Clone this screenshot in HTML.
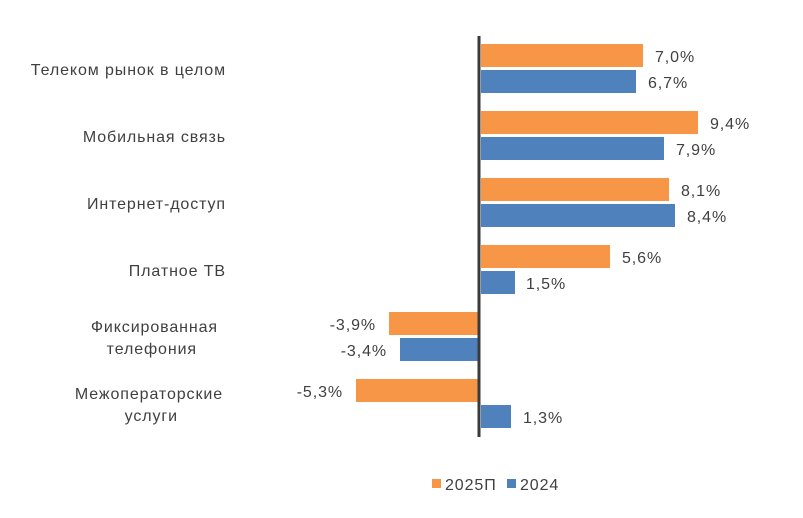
<!DOCTYPE html>
<html><head><meta charset="utf-8"><style>
body{margin:0;background:#fff;}
svg text{font-family:"Liberation Sans","DejaVu Sans",sans-serif;font-size:16px;letter-spacing:0.9px;fill:#404040;}
</style></head><body>
<svg width="803" height="513" xmlns="http://www.w3.org/2000/svg">
<g id="bars">
<rect x="481" y="44" width="162" height="23" fill="#F79646"/>
<rect x="481" y="70" width="155" height="23" fill="#4F81BD"/>
<rect x="481" y="111" width="217" height="23" fill="#F79646"/>
<rect x="481" y="137" width="183" height="23" fill="#4F81BD"/>
<rect x="481" y="178" width="188" height="23" fill="#F79646"/>
<rect x="481" y="204" width="194" height="23" fill="#4F81BD"/>
<rect x="481" y="245" width="129" height="23" fill="#F79646"/>
<rect x="481" y="271" width="34" height="23" fill="#4F81BD"/>
<rect x="389" y="312" width="90" height="23" fill="#F79646"/>
<rect x="400" y="338" width="79" height="23" fill="#4F81BD"/>
<rect x="356" y="379" width="123" height="23" fill="#F79646"/>
<rect x="481" y="405" width="30" height="23" fill="#4F81BD"/>
</g>
<rect x="477.5" y="36" width="3" height="401" fill="#3a3a3a"/>
<g>
<text x="655" y="62">7,0%</text>
<text x="648" y="88">6,7%</text>
<text x="710" y="129">9,4%</text>
<text x="676" y="155">7,9%</text>
<text x="681" y="196">8,1%</text>
<text x="687" y="222">8,4%</text>
<text x="622" y="263">5,6%</text>
<text x="526" y="289">1,5%</text>
<text x="376" y="330" text-anchor="end">-3,9%</text>
<text x="387" y="356" text-anchor="end">-3,4%</text>
<text x="343" y="397" text-anchor="end">-5,3%</text>
<text x="523" y="423">1,3%</text>
</g>
<g text-anchor="end">
<text x="226" y="75">Телеком рынок в целом</text>
<text x="226" y="142">Мобильная связь</text>
<text x="226" y="209">Интернет-доступ</text>
<text x="226" y="276">Платное ТВ</text>
<text x="218" y="332">Фиксированная</text>
<text x="197" y="354">телефония</text>
<text x="223" y="399">Межоператорские</text>
<text x="178" y="421">услуги</text>
</g>
<rect x="432" y="479" width="9" height="9" fill="#F79646"/>
<text x="445" y="490">2025П</text>
<rect x="507" y="479" width="9" height="9" fill="#4F81BD"/>
<text x="520" y="490">2024</text>
</svg>
</body></html>
